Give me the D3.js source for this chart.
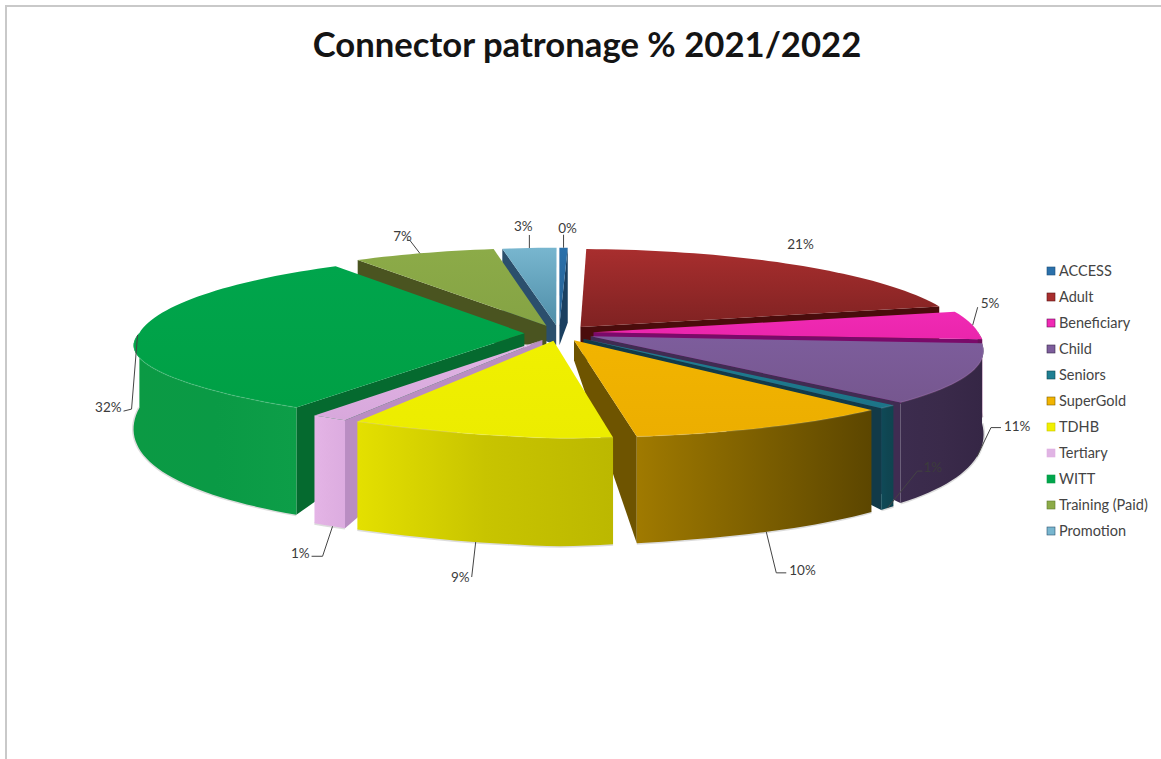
<!DOCTYPE html>
<html>
<head>
<meta charset="utf-8">
<title>Connector patronage % 2021/2022</title>
<script src="https://cdn.jsdelivr.net/npm/d3@7/dist/d3.min.js"></script>
<style>
  html, body { margin: 0; padding: 0; background: #fff; }
  svg { display: block; }
  text { font-family: Lato, "Liberation Sans", sans-serif; }
</style>
</head>
<body>
<svg id="chart" width="1161" height="759"></svg>
<script>
// Patronage share per fare category, in percent
const categories = ["ACCESS", "Adult", "Beneficiary", "Child", "Seniors", "SuperGold", "TDHB", "Tertiary", "WITT", "Training (Paid)", "Promotion"];
const shares = [0.4, 20.8, 5.2, 11.2, 0.7, 9.8, 9.4, 1.3, 32.3, 6.8, 2.6];

// Shading for each category: top face (back, front), rim (left, middle, right), cut face
const topBack = ["#2a70aa", "#a82e2e", "#f02ab4", "#7d5d9c", "#1f7f92", "#f2b400", "#f0f000", "#e0b4e4", "#00a54c", "#8cab48", "#78b6cf"];
const topFront = ["#245f92", "#7f2222", "#ea25ac", "#76578f", "#1c7488", "#ecae00", "#ecec00", "#d8a8dc", "#00a045", "#85a344", "#4f8ea8"];
const rimLeft = ["#1e4f78", "#5a1515", "#6a0f5a", "#3c2c4e", "#0f4a58", "#a07a00", "#e4e000", "#e4b4e6", "#0b9a44", "#5f7a2e", "#2e5470"];
const rimMid = ["#1e4f78", "#5a1515", "#6a0f5a", "#3a2a4a", "#0f4652", "#7e6000", "#c8c400", "#e0b0e2", "#0a9a45", "#5f7a2e", "#2e5470"];
const rimRight = ["#1e4f78", "#5a1515", "#6a0f5a", "#352645", "#0f4450", "#5c4600", "#bcb800", "#dcace0", "#0d9e48", "#5f7a2e", "#2e5470"];
const cutFace = ["#1a3f60", "#4a0c0c", "#7a0a6a", "#3f2c52", "#123a48", "#6e5400", "#a0a000", "#b98dc2", "#056a2f", "#4a5420", "#2b4f6c"];

// Where along each slice's rim the leader starts, then its bend, tail and label offsets
const anchorAlong = [0.5, 0.5, 0.5, 0.37, 0.5, 0.5, 0.52, 0.4, 0.5, 0.47, 0.5];
const leaderBend = [[0, -13], null, [5, -18], [14, -29], [30, -37], [10, 41], [-4, 35], [-10, 30], [-6, 74], [-10, -13], [0, -13]];
const leaderTail = [[0, 0], null, [0, 0], [10, 0], [5, 0], [10, 0], [0, 0], [-11, 0], [-8, 2], [-3, 0], [0, 0]];
const labelShift = [[4, -6], [6, -16], [3, -3], [3, -1], [1, -3], [3, -2], [-2, 1], [-2, -2], [-2, -3], [5, -3], [-6, -8]];
const labelAlign = ["middle", "middle", "start", "start", "start", "start", "end", "end", "end", "end", "middle"];

const svg = d3.select("#chart");
const defs = svg.append("defs");

// Sheet edge along the top and left
svg.append("path").attr("d", "M6,759V6H1161").attr("fill", "none").attr("stroke", "#c9c9c9").attr("stroke-width", 2);

svg.append("text").attr("x", 587).attr("y", 57).attr("text-anchor", "middle")
  .attr("font-size", 34.7).attr("font-weight", 700).attr("fill", "#141414")
  .text("Connector patronage % 2021/2022");

// Ground plane: unit disc with px to the right and py toward the viewer
const cx = 559, cy = 333, explode = 0.09;
const xScale = d3.scaleLinear().domain([-1, 1]).range([cx - 385, cx + 385]);
const project = (px, py) => [
  xScale(px * (1 + (py > 0 ? 0.16 : 0.12) * py)),
  cy + py * (87.5 + 8.5 * py) - 14 * Math.max(0, -px) * Math.max(0, py)
];
// Wall height grows toward the viewer and eases off slightly on the right
const wallHeight = (py, px) => py <= 0 ? 75 : 75 + 33 * Math.sin(Math.min(py, 1) * Math.PI / 2) - 8 * Math.max(0, px) * py;

const arcs = d3.pie().sort(null).startAngle(0).endAngle(2 * Math.PI)(shares);
const line = d3.line();

const slices = arcs.map((a, i) => {
  const mid = (a.startAngle + a.endAngle) / 2;
  const ox = explode * Math.sin(mid), oy = -explode * Math.cos(mid);
  const steps = Math.max(2, Math.ceil((a.endAngle - a.startAngle) / 0.03));
  const angles = d3.range(steps + 1).map(k => a.startAngle + (a.endAngle - a.startAngle) * k / steps);
  const ground = angles.map(t => [ox + Math.sin(t), oy - Math.cos(t)]);
  // The rim only shows on the half of the disc facing the viewer
  const front = angles.filter(t => Math.cos(t) <= 0.02).map(t => [ox + Math.sin(t), oy - Math.cos(t)]);
  return { i, a, mid, ox, oy, ground, front };
});

function gradient(id, horizontal, range, stops) {
  const g = defs.append("linearGradient").attr("id", id).attr("gradientUnits", "userSpaceOnUse");
  if (horizontal) g.attr("x1", range[0]).attr("x2", range[1]).attr("y1", 0).attr("y2", 0);
  else g.attr("x1", 0).attr("x2", 0).attr("y1", range[0]).attr("y2", range[1]);
  stops.forEach((c, k) => g.append("stop").attr("offset", k / (stops.length - 1)).attr("stop-color", c));
  return `url(#${id})`;
}

const onTop = p => project(p[0], p[1]);
const onFloor = p => { const q = project(p[0], p[1]); return [q[0], q[1] + wallHeight(p[1], p[0])]; };

const pieLayer = svg.append("g");
// Paint back to front so nearer slices overlap farther ones
slices.slice().sort((p, q) => (p.oy - Math.cos(p.mid) * 0.5) - (q.oy - Math.cos(q.mid) * 0.5)).forEach(s => {
  const { i, a, ground, front, ox, oy } = s;
  const g = pieLayer.append("g");
  const topEdge = ground.map(onTop);
  const apex = project(ox, oy);
  const apexLow = [apex[0], apex[1] + 20];

  // Cut faces that turn toward the viewer
  [[Math.sin(a.startAngle) < -0.001, ground[0]], [Math.sin(a.endAngle) > 0.001, ground[ground.length - 1]]]
    .forEach(([visible, rimPoint]) => {
      if (visible) g.append("path").attr("d", line([apex, onTop(rimPoint), onFloor(rimPoint), apexLow]) + "Z").attr("fill", cutFace[i]);
    });

  // Rim wall with a soft contact shadow under it and a faint highlight on its upper edge
  if (front.length > 1) {
    const rimTop = front.map(onTop), rimLow = front.map(onFloor);
    g.append("path").attr("d", line(rimLow)).attr("fill", "none").attr("stroke", "#9a9a9a").attr("stroke-opacity", 0.35).attr("stroke-width", 3);
    const xs = d3.extent(rimTop, p => p[0]);
    g.append("path").attr("d", line(rimTop.concat(rimLow.slice().reverse())) + "Z")
      .attr("fill", gradient("rim" + i, true, xs, [rimLeft[i], rimMid[i], rimRight[i]]));
  }
  // Top face
  const ys = d3.extent(topEdge.concat([apex]), p => p[1]);
  g.append("path").attr("d", line([apex].concat(topEdge)) + "Z")
    .attr("fill", gradient("top" + i, false, ys, [topBack[i], topFront[i]]));
  if (front.length > 1) {
    g.append("path").attr("d", line(front.map(onTop))).attr("fill", "none").attr("stroke", "#fff").attr("stroke-opacity", 0.1).attr("stroke-width", 1.5);
  }
});

// Percentage labels with their leader lines
const labelLayer = svg.append("g");
slices.forEach(s => {
  const { i, a, ox, oy } = s;
  const t = a.startAngle + (a.endAngle - a.startAngle) * anchorAlong[i];
  const p = [ox + Math.sin(t), oy - Math.cos(t)];
  const anchor = p[1] > 0.2 ? onFloor(p) : onTop(p);
  const label = d3.format(".0f")(shares[i]) + "%";
  const text = (x, y) => labelLayer.append("text").attr("x", x).attr("y", y).attr("text-anchor", labelAlign[i])
    .attr("font-size", 13.5).attr("fill", "#3c3c3c").text(label);
  if (!leaderBend[i]) {
    text(anchor[0] + labelShift[i][0], anchor[1] + labelShift[i][1]);
    return;
  }
  const bend = [anchor[0] + leaderBend[i][0], anchor[1] + leaderBend[i][1]];
  const tail = [bend[0] + leaderTail[i][0], bend[1] + leaderTail[i][1]];
  labelLayer.append("path").attr("d", line([anchor, bend, tail])).attr("fill", "none").attr("stroke", "#444").attr("stroke-width", 1);
  text(tail[0] + labelShift[i][0], tail[1] + labelShift[i][1] + 4);
});

// Legend
const legendY = d3.scalePoint().domain(categories).range([271, 531]);
const legend = svg.append("g");
categories.forEach((c, i) => {
  legend.append("rect").attr("x", 1047).attr("y", legendY(c) - 4).attr("width", 8).attr("height", 8)
    .attr("fill", topBack[i]).attr("stroke", rimMid[i]).attr("stroke-width", 0.6);
  legend.append("text").attr("x", 1059).attr("y", legendY(c) + 4.5)
    .attr("font-size", 14.5).attr("fill", "#444").text(c);
});
</script>
</body>
</html>
